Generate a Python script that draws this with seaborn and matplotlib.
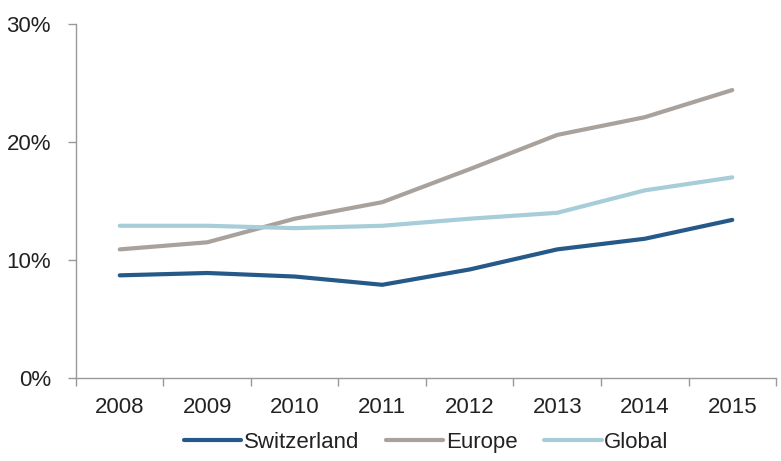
import pandas as pd
import matplotlib.pyplot as plt
import seaborn as sns
from matplotlib.ticker import FixedLocator, FuncFormatter

# data (percent)

years = ['2008', '2009', '2010', '2011', '2012', '2013', '2014', '2015']
switzerland = [8.7, 8.9, 8.6, 7.9, 9.2, 10.9, 11.8, 13.4]
europe = [10.9, 11.5, 13.5, 14.9, 17.7, 20.6, 22.1, 24.4]
global_ = [12.9, 12.9, 12.7, 12.9, 13.5, 14.0, 15.9, 17.0]

series = {'Switzerland': switzerland, 'Europe': europe, 'Global': global_}
colors = {'Switzerland': '#255a88', 'Europe': '#a9a19b', 'Global': '#a6cdd8'}

rows = []
for name, vals in series.items():
    for i, v in enumerate(vals):
        rows.append({'pos': i, 'year': years[i], 'value': v, 'series': name})
df = pd.DataFrame(rows)

# plotting

sns.set_style('white')
plt.rcParams['font.family'] = ['Liberation Sans', 'DejaVu Sans']

fig = plt.figure(figsize=(7.81, 4.61), dpi=100)
ax = fig.add_axes([0.0973, 0.180, 0.8963, 0.768])

sns.lineplot(data=df, x='pos', y='value', hue='series', palette=colors,
             hue_order=list(series.keys()), linewidth=3.0, ax=ax,
             solid_capstyle='round', legend=True)

ax.set_xlim(-0.5, len(years) - 0.5)
ax.set_ylim(0, 30)
ax.set_yticks([0, 10, 20, 30])
ax.yaxis.set_major_formatter(FuncFormatter(lambda v, p: f'{v:.0f}%'))

# category boundaries get tick marks, labels sit in between
ax.xaxis.set_major_locator(FixedLocator([i - 0.5 for i in range(len(years) + 1)]))
ax.xaxis.set_minor_locator(FixedLocator(list(range(len(years)))))
ax.set_xticklabels([])
ax.set_xticklabels(years, minor=True)
ax.tick_params(axis='x', which='major', bottom=True, length=6, width=1,
               color='#999999', direction='out')
ax.tick_params(axis='x', which='minor', bottom=True, length=0, pad=14,
               labelsize=16, labelcolor='#222222')
ax.tick_params(axis='y', left=True, length=6, width=1, color='#999999', direction='out',
               labelsize=16, labelcolor='#222222', pad=12)
ax.set_xlabel('')
ax.set_ylabel('')

sns.despine(ax=ax)
for side in ['left', 'bottom']:
    ax.spines[side].set_color('#999999')
    ax.spines[side].set_linewidth(1)

ax.legend(loc='upper center', bbox_to_anchor=(0.5, -0.115), ncol=3, frameon=False,
          fontsize=16, handlelength=2.6, handletextpad=0.1, columnspacing=1.2,
          labelcolor='#222222', borderaxespad=0.2)

fig.savefig('out.png', dpi=100)
